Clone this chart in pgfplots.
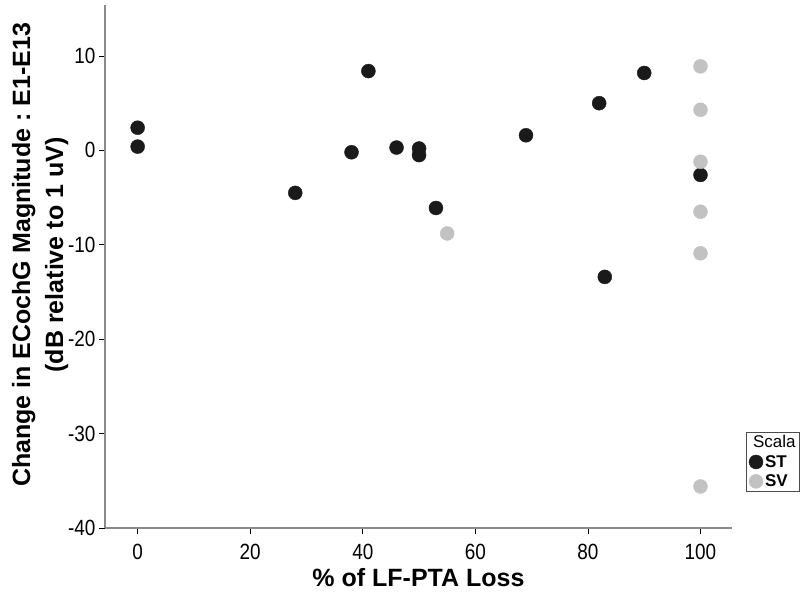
\documentclass[border=0pt]{standalone}
\usepackage{fontspec}
\setmainfont{Liberation Sans}
\newfontfamily\tickfont[FakeStretch=0.86]{Liberation Sans}
\usepackage{pgfplots}
\pgfplotsset{compat=1.18}

\definecolor{stcol}{HTML}{1A1A1A}
\definecolor{svcol}{HTML}{C2C2C2}
\definecolor{axcol}{HTML}{8A8A8A}

\begin{document}
\frenchspacing
\begin{tikzpicture}
\useasboundingbox (0,0) rectangle (800pt,597pt);
\begin{axis}[
    at={(105pt,69pt)}, anchor=south west,
    scale only axis,
    width=627pt, height=523pt,
    xmin=-5.8, xmax=105.6,
    ymin=-40, ymax=15.4,
    axis lines*=left,
    axis line style={axcol, line width=1.2pt},
    tick style={black, line width=0.8pt},
    tick align=outside,
    major tick length=6pt,
    xtick={0,20,...,100},
    ytick={-40,-30,...,10},
    /pgf/number format/assume math mode=true,
    ticklabel style={font=\tickfont\fontsize{22}{26}\selectfont},
    xticklabel style={yshift=-7pt},
    xlabel={\% of LF-PTA Loss},
    ylabel={Change in ECochG Magnitude : E1-E13\\(dB relative to 1 uV)},
    xlabel style={font=\fontsize{25}{30}\selectfont\bfseries, yshift=-1pt},
    ylabel style={font=\fontsize{25}{33}\selectfont\bfseries, align=center,
        at={(ticklabel cs:0.522)}, yshift=-7pt},
    legend style={at={(1.022,0.184)}, anchor=north west, draw=black!70,
        font=\fontsize{17}{20}\selectfont, inner sep=1.5pt,
        row sep=2pt, legend cell align=left},
]
\addlegendimage{empty legend}
\addlegendentry{\hspace{-12pt}Scala}

\addplot[only marks, mark=*, mark size=7pt, mark options={draw=stcol, fill=stcol}]
coordinates {
  (0,2.4) (0,0.4) (28,-4.5) (38,-0.2) (41,8.4) (46,0.3)
  (50,0.2) (50,-0.5) (53,-6.1) (69,1.6) (82,5.0) (90,8.2)
  (83,-13.4) (100,-2.6)
};
\addlegendentry{\textbf{ST}}

\addplot[only marks, mark=*, mark size=7pt, mark options={draw=svcol, fill=svcol}]
coordinates {
  (55,-8.8) (100,8.9) (100,4.3) (100,-1.2) (100,-6.5) (100,-10.9) (100,-35.6)
};
\addlegendentry{\textbf{SV}}
\end{axis}
\end{tikzpicture}
\end{document}
